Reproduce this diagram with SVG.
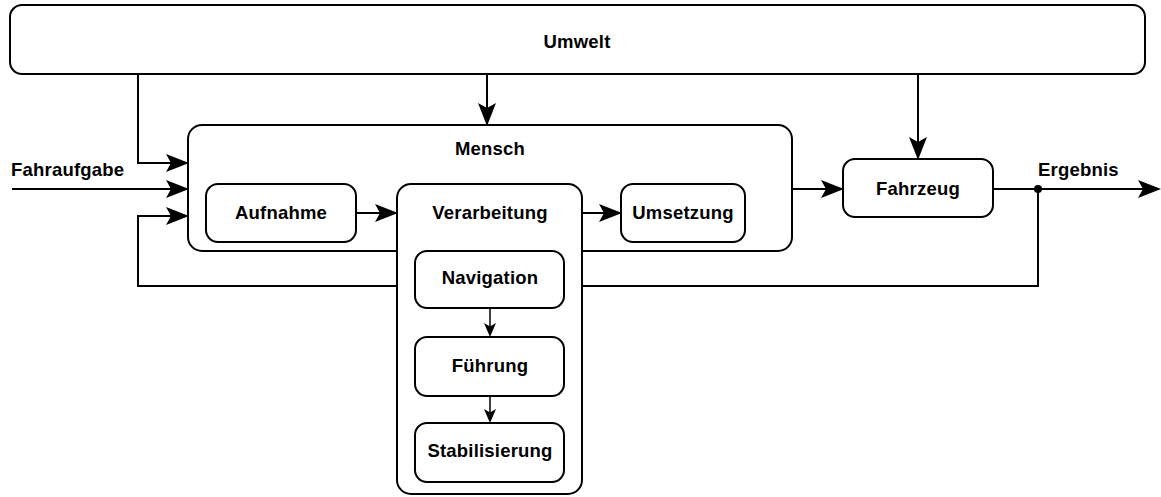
<svg xmlns="http://www.w3.org/2000/svg" width="1161" height="497" viewBox="0 0 1161 497">
  <style>
    .box { fill: #ffffff; stroke: #000000; stroke-width: 2; }
    .lbl { font-family: "Liberation Sans", Arial, sans-serif; font-weight: bold; font-size: 18.5px; letter-spacing: 0.2px; fill: #000000; }
    .mid { text-anchor: middle; }
    .wire { fill: none; stroke: #000000; stroke-width: 2; }
    .thin { fill: none; stroke: #000000; stroke-width: 1.5; }
  </style>
  <defs>
    <marker id="arrowBig" viewBox="0 -9.5 23 19" markerWidth="23" markerHeight="19" refX="12" refY="0" orient="auto" markerUnits="userSpaceOnUse">
      <path d="M0,-9 L23,0 L0,9 L5,0 Z" fill="#000000"/>
    </marker>
    <marker id="arrowSmall" viewBox="0 -7 14 14" markerWidth="14" markerHeight="14" refX="8" refY="0" orient="auto" markerUnits="userSpaceOnUse">
      <path d="M0,-6 L14,0 L0,6 L3.5,0 Z" fill="#000000"/>
    </marker>
  </defs>

  <!-- outer environment -->
  <g id="umwelt">
    <rect class="box" x="10" y="5" width="1135" height="69" rx="12" ry="12"/>
    <text class="lbl mid" x="577" y="48">Umwelt</text>
  </g>

  <!-- driver -->
  <g id="mensch">
    <rect class="box" x="188" y="125" width="604" height="126" rx="14" ry="14"/>
    <text class="lbl mid" x="490" y="155">Mensch</text>
  </g>

  <g id="aufnahme">
    <rect class="box" x="206" y="184" width="150" height="58" rx="12" ry="12"/>
    <text class="lbl mid" x="281" y="219">Aufnahme</text>
  </g>

  <g id="verarbeitung">
    <rect class="box" x="397" y="184" width="185" height="310" rx="14" ry="14"/>
    <text class="lbl mid" x="490" y="219">Verarbeitung</text>
  </g>

  <g id="navigation">
    <rect class="box" x="415" y="251" width="149" height="57" rx="12" ry="12"/>
    <text class="lbl mid" x="490" y="284">Navigation</text>
  </g>

  <g id="fuehrung">
    <rect class="box" x="415" y="337" width="149" height="59" rx="12" ry="12"/>
    <text class="lbl mid" x="490" y="372">Führung</text>
  </g>

  <g id="stabilisierung">
    <rect class="box" x="415" y="423" width="149" height="59" rx="12" ry="12"/>
    <text class="lbl mid" x="490" y="457">Stabilisierung</text>
  </g>

  <g id="umsetzung">
    <rect class="box" x="621" y="184" width="124" height="58" rx="12" ry="12"/>
    <text class="lbl mid" x="683" y="219">Umsetzung</text>
  </g>

  <g id="fahrzeug">
    <rect class="box" x="843" y="159" width="150" height="58" rx="12" ry="12"/>
    <text class="lbl mid" x="918" y="194.5">Fahrzeug</text>
  </g>

  <!-- free labels -->
  <g id="fahraufgabe">
    <text class="lbl" x="11" y="176">Fahraufgabe</text>
  </g>
  <g id="ergebnis">
    <text class="lbl" x="1038" y="176">Ergebnis</text>
  </g>

  <!-- connectors -->
  <g id="connectors">
    <path class="wire" d="M138,74 V163 H178" marker-end="url(#arrowBig)"/>
    <path class="wire" d="M12,189 H178" marker-end="url(#arrowBig)"/>
    <path class="wire" d="M487,74 V115" marker-end="url(#arrowBig)"/>
    <path class="wire" d="M918,74 V149" marker-end="url(#arrowBig)"/>
    <path class="wire" d="M792,189 H833" marker-end="url(#arrowBig)"/>
    <path class="wire" d="M993,189 H1150" marker-end="url(#arrowBig)"/>
    <path class="wire" d="M356,213 H387" marker-end="url(#arrowBig)"/>
    <path class="wire" d="M582,213 H611" marker-end="url(#arrowBig)"/>
    <!-- feedback loop, passing behind the processing block -->
    <path class="wire" d="M1038,189 V286 H582"/>
    <path class="wire" d="M397,286 H138 V216 H178" marker-end="url(#arrowBig)"/>
    <path class="thin" d="M490,308 V331" marker-end="url(#arrowSmall)"/>
    <path class="thin" d="M490,396 V417" marker-end="url(#arrowSmall)"/>
    <circle cx="1038" cy="189" r="4" fill="#000000"/>
  </g>
</svg>
